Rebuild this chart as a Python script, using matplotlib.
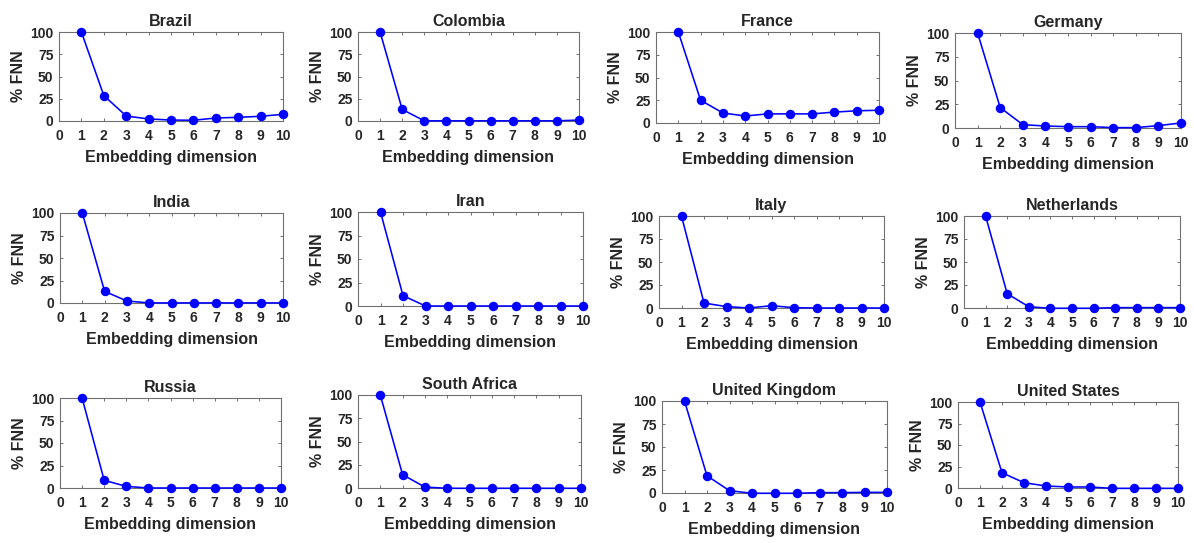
import matplotlib.pyplot as plt

plt.rcParams['font.family'] = ['Liberation Sans', 'DejaVu Sans']
plt.rcParams['font.weight'] = 'bold'

dims = list(range(1, 11))

countries = ["Brazil", "Colombia", "France", "Germany",
             "India", "Iran", "Italy", "Netherlands",
             "Russia", "South Africa", "United Kingdom", "United States"]

brazil = [100, 28.6, 5.6, 2.3, 1.1, 0.8, 3.4, 4.1, 5.3, 7.5]
colombia = [100, 13.0, 0.2, 0.2, 0.2, 0.2, 0.2, 0.2, 0.2, 1.0]
france = [100, 25.0, 11.0, 7.7, 10.0, 10.0, 10.0, 12.0, 13.4, 14.0]
germany = [100, 21.5, 3.5, 2.1, 1.4, 1.4, 0.4, 0.4, 2.5, 5.3]
india = [100, 13.0, 2.2, 0.1, 0.1, 0.1, 0.1, 0.1, 0.1, 0.1]
iran = [100, 11.0, 0.0, 0.0, 0.0, 0.0, 0.0, 0.0, 0.0, 0.0]
italy = [100, 5.4, 1.5, 0.0, 2.5, 0.3, 0.0, 0.0, 0.0, 0.0]
netherlands = [100, 15.5, 1.4, -0.3, -0.3, -0.3, 0.4, 0.4, 0.4, 0.4]
russia = [100, 8.5, 1.8, 0.0, 0.0, 0.0, 0.0, 0.0, 0.0, 0.0]
south_africa = [100, 14.3, 1.0, -0.3, -0.3, -0.3, -0.3, -0.3, -0.3, -0.3]
united_kingdom = [100, 18.7, 2.5, -0.3, -0.3, -0.3, 0.4, 0.4, 0.7, 0.7]
united_states = [100, 17.7, 6.2, 2.3, 1.2, 1.2, -0.4, -0.4, -0.4, -0.4]

series = [brazil, colombia, france, germany,
          india, iran, italy, netherlands,
          russia, south_africa, united_kingdom, united_states]

# axes boxes in pixels: left, right, top, bottom
boxes = [
    (59, 283, 32, 121), (358, 579, 32, 121), (656, 879, 32, 123), (955, 1181, 33, 128),
    (60, 283, 213, 303), (358, 583, 212, 306), (659, 884, 216, 308), (964, 1180, 216, 308),
    (60, 281, 398, 488), (358, 581, 395, 488), (662, 887, 401, 493), (958, 1178, 402, 488),
]

W, H = 1194, 543
fig = plt.figure(figsize=(W / 100, H / 100), dpi=100)

txt = '#262626'
edge = '#707070'

for name, vals, (l, r, t, b) in zip(countries, series, boxes):
    ax = fig.add_axes([l / W, 1 - b / H, (r - l) / W, (b - t) / H])
    ax.plot(dims, vals, color='blue', lw=1.15, marker='o', ms=5.8,
            mfc='blue', mec='blue', clip_on=False, zorder=3)
    ax.set_xlim(0, 10)
    ax.set_ylim(0, 100)
    ax.set_xticks(range(0, 11))
    ax.set_yticks([0, 25, 50, 75, 100])
    ax.tick_params(direction='in', length=2.5, width=0.7, color=edge,
                   labelsize=10, labelcolor=txt, top=True, right=True, pad=4)
    ax.tick_params(axis='x', pad=6)
    for lab in ax.get_xticklabels() + ax.get_yticklabels():
        lab.set_fontweight('bold')
    for s in ax.spines.values():
        s.set_color(edge)
        s.set_linewidth(0.8)
    ax.set_title(name, fontsize=11.5, fontweight='bold', color=txt, pad=4)
    ax.set_xlabel("Embedding dimension", fontsize=11.5, fontweight='bold', color=txt, labelpad=5)
    ax.set_ylabel("% FNN", fontsize=11.5, fontweight='bold', color=txt, labelpad=3)

fig.savefig("out.png", dpi=100)
